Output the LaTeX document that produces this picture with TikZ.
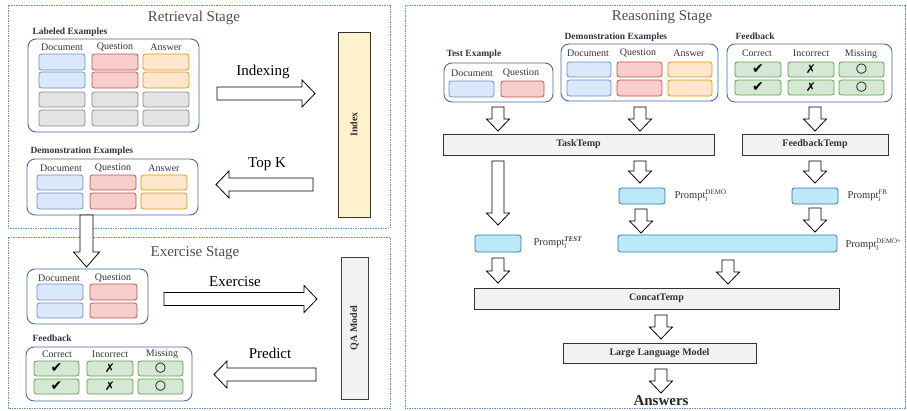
\documentclass[tikz,border=0pt]{standalone}
\usepackage{fontspec}
\setmainfont{Liberation Serif}
\newfontfamily\symf{DejaVu Sans}
\definecolor{stagec}{HTML}{6C8EBF}
\definecolor{grpc}{HTML}{45679F}
\definecolor{bluef}{HTML}{DAE8FC}\definecolor{bluel}{HTML}{6C8EBF}
\definecolor{redf}{HTML}{F8CECC}\definecolor{redl}{HTML}{B85450}
\definecolor{orf}{HTML}{FFE6CC}\definecolor{orl}{HTML}{D79B00}
\definecolor{grf}{HTML}{E3E3E3}\definecolor{grl}{HTML}{8A8A8A}
\definecolor{gnf}{HTML}{D5E8D4}\definecolor{gnl}{HTML}{5E9E4A}
\definecolor{prf}{HTML}{BCE8FA}\definecolor{prl}{HTML}{2E7BA6}
\definecolor{tmpf}{HTML}{F2F2F2}
\definecolor{idxf}{HTML}{FFF2CC}
\newcommand{\fsz}[1]{\fontsize{#1}{#1}\selectfont}
\newcommand{\BAdownG}[6]{\draw[blk] (#1-#4,#2) -- (#1+#4,#2) -- (#1+#4,#3-#6) -- (#1+#5,#3-#6) -- (#1,#3) -- (#1-#5,#3-#6) -- (#1-#4,#3-#6) -- cycle;}
\newcommand{\BAdown}[3]{\BAdownG{#1}{#2}{#3}{6}{11.5}{12}}
\newcommand{\BAright}[3]{\draw[blk] (#1,#3-6.5) -- (#2-13,#3-6.5) -- (#2-13,#3-13.5) -- (#2,#3) -- (#2-13,#3+13.5) -- (#2-13,#3+6.5) -- (#1,#3+6.5) -- cycle;}
\newcommand{\BAleft}[3]{\draw[blk] (#1,#3-6.5) -- (#2+13,#3-6.5) -- (#2+13,#3-13.5) -- (#2,#3) -- (#2+13,#3+13.5) -- (#2+13,#3+6.5) -- (#1,#3+6.5) -- cycle;}
\newcommand{\cellb}[6]{\draw[#1] (#2,#3) rectangle (#4,#5); \node[sym] at ({(#2+#4)/2},{(#3+#5)/2}) {#6};}
\newcommand{\ck}{{\fsz{14}✔}}
\newcommand{\xx}{{\fsz{12}✗}}
\newcommand{\oo}{{\fsz{13}\bfseries ○}}
\begin{document}
\begin{tikzpicture}[x=1pt,y=-1pt,
  stage/.style={draw=stagec,line width=0.8pt,dash pattern=on 1.5pt off 1pt},
  grp/.style={draw=grpc,line width=0.9pt,rounded corners=8pt},
  cell/.style={line width=0.8pt,rounded corners=2.5pt},
  cblue/.style={cell,draw=bluel,fill=bluef},
  cred/.style={cell,draw=redl,fill=redf},
  cor/.style={cell,draw=orl,fill=orf},
  cgray/.style={cell,draw=grl,fill=grf},
  cgreen/.style={cell,draw=gnl,fill=gnf},
  prm/.style={line width=0.8pt,rounded corners=2.5pt,draw=prl,fill=prf},
  tmp/.style={draw=black!80,line width=0.9pt,fill=tmpf},
  blk/.style={draw=black,line width=0.8pt,fill=white},
  title/.style={font=\fsz{15}, text=black!70},
  alab/.style={font=\fsz{15}},
  lab/.style={font=\fsz{9.5}\bfseries, text=black!80, anchor=west},
  hdr/.style={font=\fsz{10}, text=black!80},
  btxt/.style={font=\fsz{10}\bfseries, text=black!80},
  sym/.style={font=\symf, inner sep=0pt},
  plab/.style={font=\fsz{10.5}, anchor=west, text=black!80}]
\useasboundingbox (0,0) rectangle (907,410);
% stages
\draw[stage] (8,5) rectangle (390,228);
\draw[stage] (8,237) rectangle (390,408.5);
\draw[stage] (405,5) rectangle (905.5,408.5);
% ===== Retrieval =====
\node[title] (rt) at (194,18) {Retrieval Stage};
\node[lab] (lel) at (29,32) {Labeled Examples};
\draw[grp] (28,39) rectangle (199,132);
\node[hdr] at (62,47) {Document};
\node[hdr] at (115,47) {Question};
\node[hdr] at (166,47) {Answer};
\foreach \ya/\yb in {54/70,72/88}{
  \cellb{cblue}{39}{\ya}{85}{\yb}{}
  \cellb{cred}{92}{\ya}{138}{\yb}{}
  \cellb{cor}{143}{\ya}{189}{\yb}{}}
\foreach \ya/\yb in {92/107,110/126}{
  \cellb{cgray}{39}{\ya}{85}{\yb}{}
  \cellb{cgray}{92}{\ya}{138}{\yb}{}
  \cellb{cgray}{143}{\ya}{189}{\yb}{}}
\BAright{217}{315}{93.5}
\node[alab] at (263,72) {Indexing};
\draw[draw=black!80,line width=0.9pt,fill=idxf] (338,32) rectangle (370,217);
\node[btxt,rotate=90] (idx) at (354,124.5) {Index};
\node[lab] (del) at (27,151) {Demonstration Examples};
\draw[grp] (27,159) rectangle (198,215);
\node[hdr] at (61,168) {Document};
\node[hdr] at (113,168) {Question};
\node[hdr] at (164,168) {Answer};
\foreach \ya/\yb in {175/190,193/209}{
  \cellb{cblue}{37}{\ya}{83}{\yb}{}
  \cellb{cred}{90}{\ya}{136}{\yb}{}
  \cellb{cor}{141}{\ya}{187}{\yb}{}}
\BAleft{313}{216}{184.5}
\node[alab] at (267,164) {Top K};
\BAdownG{86.5}{215}{267}{6.5}{13}{15}
% ===== Exercise =====
\node[title] (et) at (195,253) {Exercise Stage};
\draw[grp] (27,269) rectangle (148,324);
\node[hdr] at (59,278) {Document};
\node[hdr] at (113,278) {Question};
\foreach \ya/\yb in {284/300,303/318}{
  \cellb{cblue}{37}{\ya}{83}{\yb}{}
  \cellb{cred}{90}{\ya}{137}{\yb}{}}
\BAright{164}{317}{299}
\node[alab] at (235,282) {Exercise};
\draw[draw=black!75,line width=0.9pt,fill=tmpf] (341,257) rectangle (368,399);
\node[btxt,rotate=90] (qa) at (354.5,328) {QA Model};
\node[lab] (fbl) at (29,338) {Feedback};
\draw[grp] (26,347) rectangle (192,401);
\node[hdr] at (57,354) {Correct};
\node[hdr] at (110,354) {Incorrect};
\node[hdr] at (162,354) {Missing};
\foreach \ya/\yb in {361/376,379/394}{
  \cellb{cgreen}{34}{\ya}{79}{\yb}{\ck}
  \cellb{cgreen}{87}{\ya}{133}{\yb}{\xx}
  \cellb{cgreen}{138}{\ya}{183}{\yb}{\oo}}
\BAleft{316}{214}{374.5}
\node[alab] at (270,353) {Predict};
% ===== Reasoning =====
\node[title] (rs) at (662,17) {Reasoning Stage};
\node[lab] at (443,54) {Test Example};
\draw[grp] (444,63) rectangle (553,102);
\node[hdr] at (472,73) {Document};
\node[hdr] at (521,73) {Question};
\cellb{cblue}{449}{81}{494}{97}{}
\cellb{cred}{501}{81}{544}{97}{}
\node[lab] at (561,37) {Demonstration Examples};
\draw[grp] (561,44) rectangle (718,101);
\node[hdr] at (588,53) {Document};
\node[hdr] at (638,53) {Question};
\node[hdr] at (689,53) {Answer};
\foreach \ya/\yb in {62/77,80/96}{
  \cellb{cblue}{567}{\ya}{611}{\yb}{}
  \cellb{cred}{617}{\ya}{662}{\yb}{}
  \cellb{cor}{668}{\ya}{712}{\yb}{}}
\node[lab] at (732,36) {Feedback};
\draw[grp] (727,44) rectangle (892,102);
\node[hdr] at (757,53) {Correct};
\node[hdr] at (811,53) {Incorrect};
\node[hdr] at (861,54.5) {Missing};
\foreach \ya/\yb in {62/77,80/95}{
  \cellb{cgreen}{735}{\ya}{781}{\yb}{\ck}
  \cellb{cgreen}{788}{\ya}{834}{\yb}{\xx}
  \cellb{cgreen}{839}{\ya}{884}{\yb}{\oo}}
\BAdown{498}{107}{131}
\BAdown{640}{107}{131}
\BAdown{815}{107}{131}
\draw[tmp] (443,134) rectangle (714,155);
\node[btxt] (tt) at (578.5,144.5) {TaskTemp};
\draw[tmp] (742,134) rectangle (888,155);
\node[btxt] (ft) at (815,144.5) {FeedbackTemp};
\BAdown{498}{161}{225}
\BAdown{640}{161}{183}
\BAdown{815}{161}{183}
\draw[prm] (619,188) rectangle (665,204);
\node[plab] at (671,196) {Prompt$_{\mathit{i}}^{\mbox{\fsz{7}DEMO}}$};
\draw[prm] (792,188) rectangle (838,204);
\node[plab] at (844,196) {Prompt$_{\mathit{i}}^{\mbox{\fsz{7}FB}}$};
\BAdown{641}{209}{233}
\BAdown{815}{208}{232}
\draw[prm] (618,235) rectangle (837,252);
\node[plab] at (842,245) {Prompt$_{\mathit{i}}^{\mbox{\fsz{7}DEMO+}}$};
\draw[prm] (475,235) rectangle (521,252);
\node[plab] at (530,243) {Prompt$_{\mathit{i}}^{\mbox{\fsz{7}\itshape\bfseries TEST}}$};
\BAdown{498}{258}{283}
\BAdown{728}{260}{284}
\draw[tmp] (474,288) rectangle (839,309);
\node[btxt] (ct) at (656.5,298.5) {ConcatTemp};
\BAdown{661}{315}{339}
\draw[tmp] (563,343) rectangle (756,363);
\node[btxt] (llm) at (659.5,353) {Large Language Model};
\BAdown{661}{369}{393}
\node[font=\fsz{15}\bfseries, text=black!85] (ans) at (661,401) {Answers};
\end{tikzpicture}
\end{document}
